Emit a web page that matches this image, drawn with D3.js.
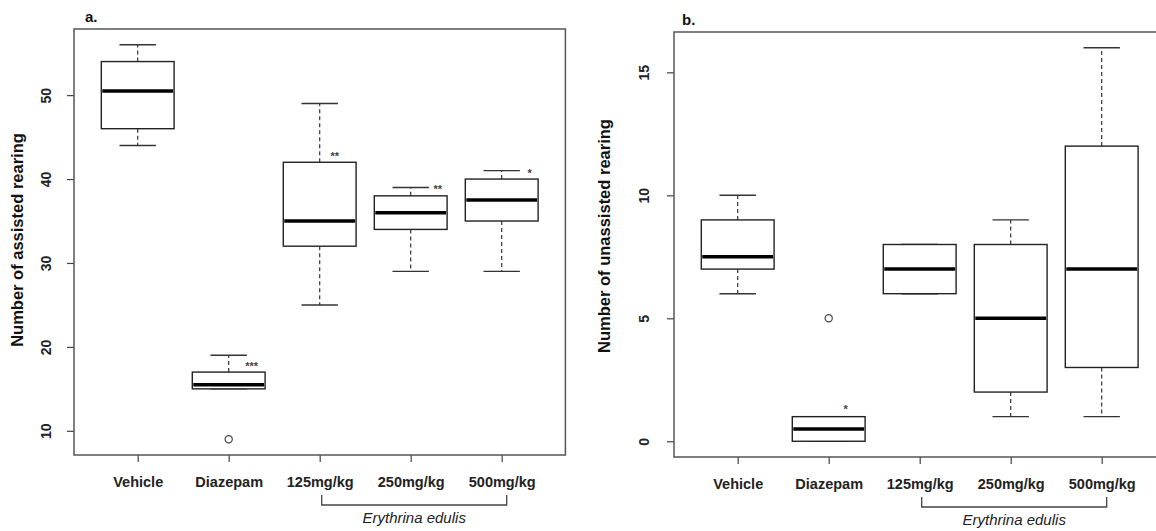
<!DOCTYPE html>
<html>
<head>
<meta charset="utf-8">
<script src="https://cdn.jsdelivr.net/npm/d3@7"></script>
<style>
  body { margin: 0; background: #fff; }
  svg { display: block; font-family: "Liberation Sans", Arial, sans-serif; }
</style>
</head>
<body>
<div id="chart"></div>
<script>
// groups on the x axis
const groups = ["Vehicle", "Diazepam", "125mg/kg", "250mg/kg", "500mg/kg"];

// a. assisted rearing (whisker low, Q1, median, Q3, whisker high)
const assistedLow  = [44, 15, 25, 29, 29];
const assistedQ1   = [46, 15, 32, 34, 35];
const assistedMed  = [50.5, 15.5, 35, 36, 37.5];
const assistedQ3   = [54, 17, 42, 38, 40];
const assistedHigh = [56, 19, 49, 39, 41];
const assistedOut  = [[], [9], [], [], []];
const assistedSig  = ["", "***", "**", "**", "*"];
const assistedSigAt = [null, 18, 43, 39, 41];
const assistedTicks = [10, 20, 30, 40, 50];

// b. unassisted rearing
const unassistedLow  = [6, 0, 6, 1, 1];
const unassistedQ1   = [7, 0, 6, 2, 3];
const unassistedMed  = [7.5, 0.5, 7, 5, 7];
const unassistedQ3   = [9, 1, 8, 8, 12];
const unassistedHigh = [10, 1, 8, 9, 16];
const unassistedOut  = [[], [5], [], [], []];
const unassistedSig  = ["", "*", "", "", ""];
const unassistedSigAt = [null, 1.4, null, null, null];
const unassistedTicks = [0, 5, 10, 15];

const svg = d3.select("#chart").append("svg")
    .attr("width", 1156)
    .attr("height", 531);

function drawPanel(p) {
    const g = svg.append("g");

    // R-style ranges: 4% padding around data
    const x = d3.scaleLinear().domain([0.3, 5.7]).range([p.left, p.left + 5.4 * p.step]);
    const y = d3.scaleLinear().domain(p.yDomain).range([p.bottom, p.top]);
    const bw = p.step * 0.8;

    // y axis
    const ya = g.append("g")
        .attr("transform", `translate(${p.left},0)`)
        .call(d3.axisLeft(y).tickValues(p.ticks).tickSize(7).tickSizeOuter(0));
    ya.select(".domain").remove();
    ya.selectAll("line").attr("stroke", "#444").attr("stroke-width", 1.2);
    ya.selectAll("text")
        .attr("x", null).attr("dy", "0.35em")
        .attr("transform", `translate(${p.tickLabelDx},0) rotate(-90)`)
        .attr("text-anchor", "middle")
        .attr("fill", "#222")
        .style("font-size", "14px")
        .style("font-weight", "bold");

    // x axis
    const xa = g.append("g")
        .attr("transform", `translate(0,${p.bottom})`)
        .call(d3.axisBottom(x).tickValues([1, 2, 3, 4, 5]).tickFormat((d, i) => groups[i]).tickSize(7).tickSizeOuter(0));
    xa.select(".domain").remove();
    xa.selectAll("line").attr("stroke", "#444").attr("stroke-width", 1.2);
    xa.selectAll("text")
        .attr("y", 22)
        .attr("fill", "#222")
        .style("font-size", "14.5px")
        .style("font-weight", "bold");

    // frame
    g.append("rect")
        .attr("x", x.range()[0]).attr("y", p.top)
        .attr("width", x.range()[1] - x.range()[0])
        .attr("height", p.bottom - p.top)
        .attr("fill", "none")
        .attr("stroke", "#555")
        .attr("stroke-width", 1.5);

    const idx = d3.range(groups.length);

    // whiskers (dashed)
    g.selectAll(".whi").data(idx).enter().append("path")
        .attr("d", i => `M${x(i + 1)},${y(p.q3[i])}V${y(p.high[i])}M${x(i + 1)},${y(p.q1[i])}V${y(p.low[i])}`)
        .attr("stroke", "#333").attr("stroke-width", 1.2)
        .attr("stroke-dasharray", "4,3");

    // staples
    g.selectAll(".cap").data(idx).enter().append("path")
        .attr("d", i => `M${x(i + 1) - bw / 4},${y(p.high[i])}H${x(i + 1) + bw / 4}M${x(i + 1) - bw / 4},${y(p.low[i])}H${x(i + 1) + bw / 4}`)
        .attr("stroke", "#333").attr("stroke-width", 1.4);

    // boxes
    g.selectAll(".box").data(idx).enter().append("rect")
        .attr("x", i => x(i + 1) - bw / 2)
        .attr("y", i => y(p.q3[i]))
        .attr("width", bw)
        .attr("height", i => y(p.q1[i]) - y(p.q3[i]))
        .attr("fill", "#fff")
        .attr("stroke", "#222").attr("stroke-width", 1.4);

    // medians
    g.selectAll(".med").data(idx).enter().append("line")
        .attr("x1", i => x(i + 1) - bw / 2 + 1)
        .attr("x2", i => x(i + 1) + bw / 2 - 1)
        .attr("y1", i => y(p.med[i]))
        .attr("y2", i => y(p.med[i]))
        .attr("stroke", "#000").attr("stroke-width", 3.5);

    // outliers
    idx.forEach(i => {
        p.out[i].forEach(v => {
            g.append("circle")
                .attr("cx", x(i + 1)).attr("cy", y(v)).attr("r", 3.6)
                .attr("fill", "none").attr("stroke", "#444").attr("stroke-width", 1.2);
        });
    });

    // significance stars
    idx.forEach(i => {
        if (!p.sig[i]) return;
        g.append("text")
            .attr("x", x(i + 1) + p.sigDx[i])
            .attr("y", y(p.sigAt[i]) + 6)
            .attr("text-anchor", "middle")
            .attr("fill", "#444")
            .style("font-size", "11px")
            .style("font-weight", "bold")
            .text(p.sig[i]);
    });

    // y title
    g.append("text")
        .attr("transform", `translate(${p.titleX},${p.titleY}) rotate(-90)`)
        .attr("dy", "0.35em")
        .attr("text-anchor", "middle")
        .attr("fill", "#111")
        .style("font-size", "16.5px")
        .style("font-weight", "bold")
        .text(p.title);

    // panel letter
    g.append("text")
        .attr("x", p.left + p.letterDx).attr("y", p.top - 7)
        .attr("fill", "#111")
        .style("font-size", "15px")
        .style("font-weight", "bold")
        .text(p.letter);

    // bracket under the extract doses
    const bx1 = x(3) + 2, bx2 = x(5) + 5, by = p.bottom + 50;
    g.append("path")
        .attr("d", `M${bx1},${by - 10}V${by}H${bx2}V${by - 10}`)
        .attr("fill", "none").attr("stroke", "#444").attr("stroke-width", 1.3);
    g.append("text")
        .attr("x", (bx1 + bx2) / 2)
        .attr("y", by + 18)
        .attr("text-anchor", "middle")
        .attr("fill", "#222")
        .style("font-size", "15px")
        .style("font-style", "italic")
        .text("Erythrina edulis");
}

drawPanel({
    left: 74, top: 29, bottom: 455, step: 91,
    yDomain: [7.12, 57.88], ticks: assistedTicks, tickLabelDx: -28,
    low: assistedLow, q1: assistedQ1, med: assistedMed, q3: assistedQ3, high: assistedHigh,
    out: assistedOut, sig: assistedSig, sigAt: assistedSigAt, sigDx: [0, 23, 15, 27, 28],
    title: "Number of assisted rearing", titleX: 17, titleY: 240, letter: "a.", letterDx: 11
});

drawPanel({
    left: 674, top: 32, bottom: 457, step: 91,
    yDomain: [-0.64, 16.64], ticks: unassistedTicks, tickLabelDx: -30,
    low: unassistedLow, q1: unassistedQ1, med: unassistedMed, q3: unassistedQ3, high: unassistedHigh,
    out: unassistedOut, sig: unassistedSig, sigAt: unassistedSigAt, sigDx: [0, 17, 0, 0, 0],
    title: "Number of unassisted rearing", titleX: 604, titleY: 236, letter: "b.", letterDx: 8
});
</script>
</body>
</html>
